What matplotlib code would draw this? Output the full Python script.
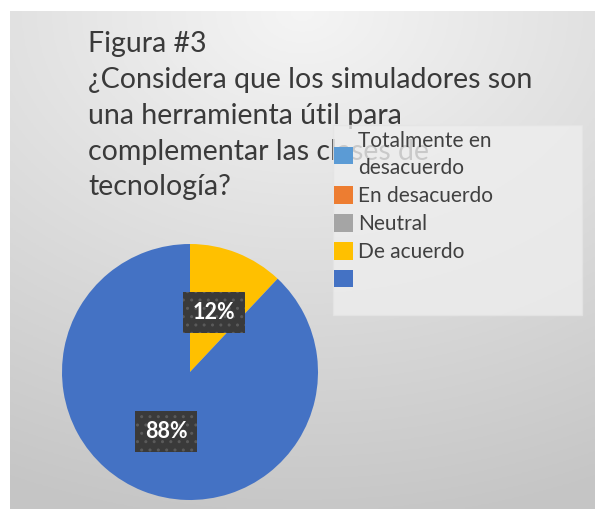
import numpy as np
import matplotlib.pyplot as plt
from matplotlib.patches import Patch, Rectangle

## data
categorias = ['Totalmente en\ndesacuerdo', 'En desacuerdo', 'Neutral', 'De acuerdo', '']
valores = [0, 0, 0, 12, 88]
colores = ['#5B9BD5', '#ED7D31', '#A5A5A5', '#FFC000', '#4472C4']
titulo = 'Figura #3\n¿Considera que los simuladores son\nuna herramienta útil para\ncomplementar las clases de\ntecnología?'

plt.rcParams['font.family'] = ['Lato', 'DejaVu Sans']

fig = plt.figure(figsize=(5.95, 5.09), dpi=100)
W, H = 595, 509

# gradient background of the chart area (light top, grey bottom)
bg = fig.add_axes([10 / W, 0, 585 / W, 1 - 11 / H], zorder=-5)
yy, xx = np.mgrid[0:1:200j, 0:1:200j]
r = np.sqrt(((xx - 0.5) * 0.9) ** 2 + (yy * 1.05) ** 2)
shade = 0.96 - 0.17 * np.clip(r, 0, 1.1)
bg.imshow(np.dstack([shade] * 3), aspect='auto', extent=[0, 1, 0, 1], origin='upper')
bg.set_axis_off()

# title (behind the legend)
fig.text(88 / W, 1 - 31 / H, titulo, fontsize=20.5, color='#3a3a3a', va='top', ha='left',
         linespacing=1.47, zorder=1)

# pie
R = 128
ax = fig.add_axes([(190 - R) / W, 1 - (372 + R) / H, 2 * R / W, 2 * R / H], zorder=2)

def etiqueta(p):
    return '%d%%' % round(p) if p > 0 else ''

wedges, texts, autotexts = ax.pie(valores, colors=colores, startangle=90, counterclock=False,
                                  autopct=etiqueta, pctdistance=0.5,
                                  wedgeprops=dict(linewidth=0),
                                  textprops=dict(color='white', fontsize=15.5, fontweight='bold'))
for t in autotexts:
    t.set_bbox(dict(boxstyle='square,pad=0.45', facecolor='#3a3a3a', edgecolor='#5a5a5a',
                    linewidth=0, hatch='..'))
ax.set_xlim(-1, 1)
ax.set_ylim(-1, 1)
ax.set_aspect('equal')

# legend box (semi-transparent over the title)
fig.patches.append(Rectangle((333 / W, 1 - 315 / H), 249 / W, 190 / H, transform=fig.transFigure,
                             facecolor='#eeeeee', edgecolor='#e4e4e4', alpha=0.8, zorder=3))
handles = [Patch(facecolor=c, edgecolor='none') for c in colores]
leg = fig.legend(handles, categorias, loc='upper left', bbox_to_anchor=(330 / W, 1 - 127 / H),
                 frameon=False, fontsize=15, labelcolor='#404040', handlelength=0.9,
                 handleheight=0.9, handletextpad=0.25, labelspacing=0.38,
                 borderpad=0.2, borderaxespad=0)
for txt in leg.get_texts():
    txt.set_linespacing(1.45)
leg.set_zorder(4)

fig.savefig('out.png', dpi=100)
